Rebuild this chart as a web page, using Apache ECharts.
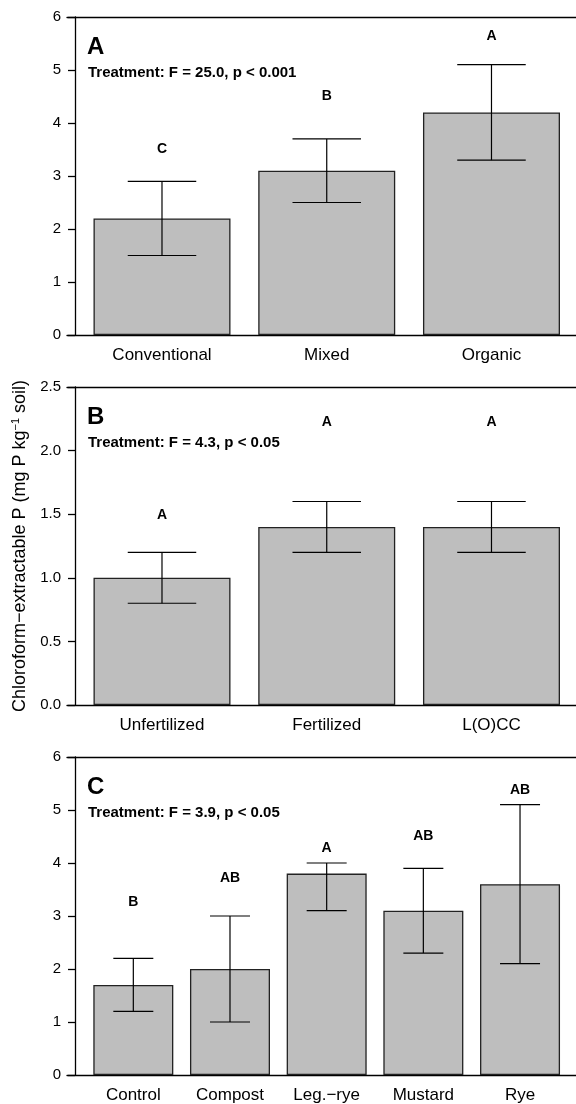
<!DOCTYPE html>
<html><head><meta charset="utf-8">
<script src="https://cdn.jsdelivr.net/npm/echarts@6/dist/echarts.min.js"></script>
<style>html,body{margin:0;padding:0;background:#fff}#c{width:576px;height:1104px}</style>
</head><body><div id="c"></div>
<script>
// ---- data ----
const catsA = ['Conventional', 'Mixed', 'Organic'];
const meanA = [2.2, 3.1, 4.2];
const lowA = [1.5, 2.5, 3.3];
const highA = [2.9, 3.7, 5.1];
const lettersA = ['C', 'B', 'A'];
const letterYA = [3.5, 4.5, 5.63];

const catsB = ['Unfertilized', 'Fertilized', 'L(O)CC'];
const meanB = [1.0, 1.4, 1.4];
const lowB = [0.8, 1.2, 1.2];
const highB = [1.2, 1.6, 1.6];
const lettersB = ['A', 'A', 'A'];
const letterYB = [1.49, 2.22, 2.22];

const catsC = ['Control', 'Compost', 'Leg.\u2212rye', 'Mustard', 'Rye'];
const meanC = [1.7, 2.0, 3.8, 3.1, 3.6];
const lowC = [1.2, 1.0, 3.1, 2.3, 2.1];
const highC = [2.2, 3.0, 4.0, 3.9, 5.1];
const lettersC = ['B', 'AB', 'A', 'AB', 'AB'];
const letterYC = [3.26, 3.72, 4.28, 4.5, 5.38];

const yTicksA = [0, 1, 2, 3, 4, 5, 6];
const yTicksB = [0.0, 0.5, 1.0, 1.5, 2.0, 2.5];
const yTicksC = [0, 1, 2, 3, 4, 5, 6];

const statA = 'Treatment: F = 25.0, p < 0.001';
const statB = 'Treatment: F = 4.3, p < 0.05';
const statC = 'Treatment: F = 3.9, p < 0.05';
const yTitle = 'Chloroform\u2212extractable P (mg P kg';

// ---- layout ----
const FONT = '"Liberation Sans", Arial, Helvetica, sans-serif';
const panels = [
  {cats: catsA, mean: meanA, low: lowA, high: highA, letters: lettersA, ly: letterYA, ticks: yTicksA, dec: 0, top: 17, xmin: 0.4234, xmax: 3.513, bw: 137, tag: 'A', stat: statA},
  {cats: catsB, mean: meanB, low: lowB, high: highB, letters: lettersB, ly: letterYB, ticks: yTicksB, dec: 1, top: 387, xmin: 0.4234, xmax: 3.513, bw: 137, tag: 'B', stat: statB},
  {cats: catsC, mean: meanC, low: lowC, high: highC, letters: lettersC, ly: letterYC, ticks: yTicksC, dec: 0, top: 757, xmin: 0.314, xmax: 5.579, bw: 80, tag: 'C', stat: statC}
];
const H = 318;

const grid = [], xAxis = [], yAxis = [], series = [], graphic = [];
panels.forEach((p, i) => {
  grid.push({left: 67, right: 0, top: p.top, height: H});
  const xi = xAxis.length;
  xAxis.push({
    type: 'value', gridIndex: i, min: p.xmin, max: p.xmax, position: 'bottom',
    axisLine: {show: true, lineStyle: {color: '#000', width: 1.3}},
    axisTick: {show: false}, splitLine: {show: false},
    axisLabel: {customValues: p.cats.map((c, k) => k + 1), formatter: v => p.cats[Math.round(v) - 1] || '',
      color: '#000', fontSize: 17, fontFamily: FONT, margin: 12}
  });
  xAxis.push({
    type: 'value', gridIndex: i, min: p.xmin, max: p.xmax, position: 'top',
    axisLine: {show: true, lineStyle: {color: '#000', width: 1.3}},
    axisTick: {show: false}, splitLine: {show: false}, axisLabel: {show: false}
  });
  const tmax = p.ticks[p.ticks.length - 1];
  const tint = p.ticks[1] - p.ticks[0];
  yAxis.push({
    type: 'value', gridIndex: i, min: p.ticks[0], max: tmax, interval: tint, offset: -8,
    axisLine: {show: true, lineStyle: {color: '#000', width: 1.3}},
    axisTick: {show: true, length: 7, lineStyle: {color: '#000', width: 1.3}},
    splitLine: {show: false},
    axisLabel: {color: '#000', fontSize: 15, fontFamily: FONT, margin: 14, formatter: v => v.toFixed(p.dec)}
  });
  series.push({
    type: 'bar', xAxisIndex: xi, yAxisIndex: i, barWidth: p.bw,
    data: p.mean.map((v, k) => [k + 1, v]),
    itemStyle: {color: '#bebebe', borderColor: '#222', borderWidth: 1.3},
    silent: true, animation: false
  });
  series.push({
    type: 'custom', xAxisIndex: xi, yAxisIndex: i, z: 5, animation: false, silent: true,
    data: p.mean.map((v, k) => [k + 1, p.low[k], p.high[k]]),
    renderItem: (params, api) => {
      const x = api.value(0);
      const a = api.coord([x, api.value(1)]);
      const b = api.coord([x, api.value(2)]);
      const hw = p.bw / 4;
      const st = {stroke: '#000', lineWidth: 1.2};
      return {type: 'group', children: [
        {type: 'line', shape: {x1: a[0], y1: a[1], x2: b[0], y2: b[1]}, style: st},
        {type: 'line', shape: {x1: a[0] - hw, y1: a[1], x2: a[0] + hw, y2: a[1]}, style: st},
        {type: 'line', shape: {x1: b[0] - hw, y1: b[1], x2: b[0] + hw, y2: b[1]}, style: st}
      ]};
    }
  });
  series.push({
    type: 'custom', xAxisIndex: xi, yAxisIndex: i, z: 6, animation: false, silent: true,
    data: p.ly.map((v, k) => [k + 1, v]),
    renderItem: (params, api) => {
      const c = api.coord([api.value(0), api.value(1)]);
      return {type: 'text', x: c[0], y: c[1], style: {text: p.letters[params.dataIndex], align: 'center', verticalAlign: 'middle',
        font: 'bold 14px ' + FONT, fill: '#000'}};
    }
  });
  graphic.push({type: 'text', left: 87, top: p.top + 18, style: {text: p.tag, font: 'bold 24px ' + FONT, fill: '#000'}});
  graphic.push({type: 'text', left: 88, top: p.top + 48, style: {text: p.stat, font: 'bold 15px ' + FONT, fill: '#000'}});
});

graphic.push({
  type: 'text', x: 20, y: 546, rotation: Math.PI / 2,
  style: {
    text: yTitle + '{sup|\u22121} soil)',
    font: '18px ' + FONT, fill: '#000', align: 'center', verticalAlign: 'middle',
    rich: {sup: {fontSize: 11, fontFamily: FONT, fill: '#000', verticalAlign: 'top', padding: [0, 0, 9, 0]}}
  }
});

const chart = echarts.init(document.getElementById('c'), null, {renderer: 'canvas'});
chart.setOption({animation: false, grid, xAxis, yAxis, series, graphic});
</script></body></html>
